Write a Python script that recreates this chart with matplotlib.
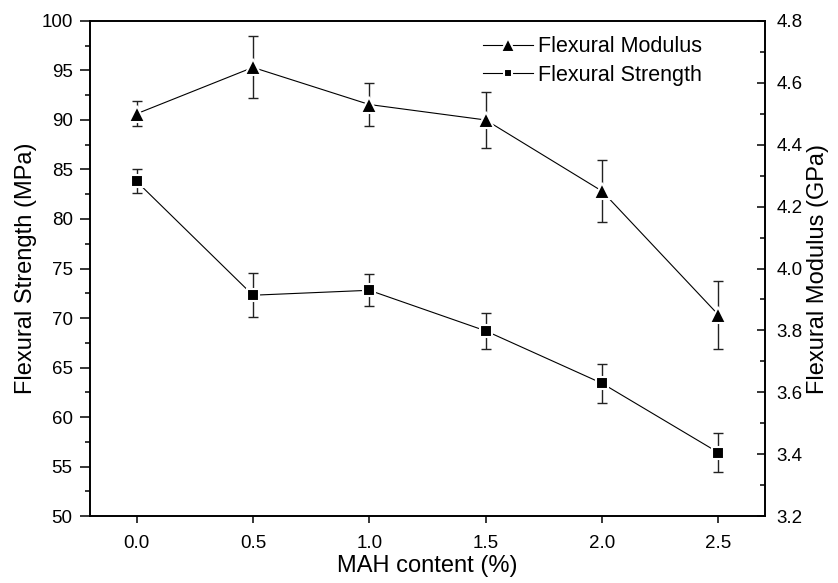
import numpy as np
import matplotlib.pyplot as plt
from matplotlib.ticker import MultipleLocator

plt.rcParams['font.family'] = ['Liberation Sans', 'DejaVu Sans']

# MAH content (%)
mah = [0.0, 0.5, 1.0, 1.5, 2.0, 2.5]

# flexural strength (MPa) and its error
strength = [83.8, 72.3, 72.8, 68.7, 63.4, 56.4]
strength_err = [1.2, 2.2, 1.6, 1.8, 2.0, 1.95]

# flexural modulus (GPa) and its error
modulus = [4.50, 4.65, 4.53, 4.48, 4.25, 3.85]
modulus_err = [0.04, 0.10, 0.07, 0.09, 0.10, 0.11]

fig = plt.figure(figsize=(8.38, 5.83), dpi=100)
ax = fig.add_axes([0.1074, 0.1149, 0.8055, 0.8491])
ax2 = ax.twinx()

# strength on left axis
ax.errorbar(mah, strength, yerr=strength_err, fmt='none', ecolor='#222222',
            elinewidth=1.0, capsize=3.6, capthick=1.0, zorder=2)
ls, = ax.plot(mah, strength, color='black', lw=0.8, marker='s', ms=8,
              mfc='black', mec='white', mew=1.5, zorder=3,
              label='Flexural Strength')

# modulus on right axis
ax2.errorbar(mah, modulus, yerr=modulus_err, fmt='none', ecolor='#222222',
             elinewidth=1.0, capsize=3.6, capthick=1.0, zorder=2)
lm, = ax2.plot(mah, modulus, color='black', lw=0.8, marker='^', ms=12,
               mfc='black', mec='white', mew=1.5, zorder=3,
               label='Flexural Modulus')

ax.set_xlim(-0.2, 2.7)
ax.set_ylim(50, 100)
ax2.set_ylim(3.2, 4.8)

ax.xaxis.set_major_locator(MultipleLocator(0.5))
ax.yaxis.set_major_locator(MultipleLocator(5))
ax.yaxis.set_minor_locator(MultipleLocator(2.5))
ax2.yaxis.set_major_locator(MultipleLocator(0.2))
ax2.yaxis.set_minor_locator(MultipleLocator(0.1))
ax.xaxis.set_major_formatter(plt.FormatStrFormatter('%.1f'))
ax2.yaxis.set_major_formatter(plt.FormatStrFormatter('%.1f'))

ax.tick_params(axis='x', which='both', direction='out', length=5, width=1.1,
               pad=8.5, labelsize=13.5, top=False)
ax.tick_params(axis='y', which='major', direction='out', length=7, width=1.1,
               pad=5.5, labelsize=13.5, right=False)
ax.tick_params(axis='y', which='minor', direction='out', length=3.6, width=1.1)
ax2.tick_params(axis='y', which='major', direction='in', length=6, width=1.1,
                pad=8.5, labelsize=13.5)
ax2.tick_params(axis='y', which='minor', direction='in', length=3.5, width=1.1)

for a in (ax, ax2):
    for s in a.spines.values():
        s.set_linewidth(1.2)

ax.set_xlabel('MAH content (%)', fontsize=17, labelpad=2)
ax.set_ylabel('Flexural Strength (MPa)', fontsize=17, labelpad=3)
ax2.set_ylabel('Flexural Modulus (GPa)', fontsize=17, labelpad=3)

fig.legend(handles=[lm, ls], loc='upper left', bbox_to_anchor=(0.5764, 0.938),
           frameon=False, fontsize=15.5, handlelength=2.3, handletextpad=0.25,
           labelspacing=0.35, markerscale=0.8, borderpad=0, borderaxespad=0)

fig.savefig('out.png', dpi=100)
